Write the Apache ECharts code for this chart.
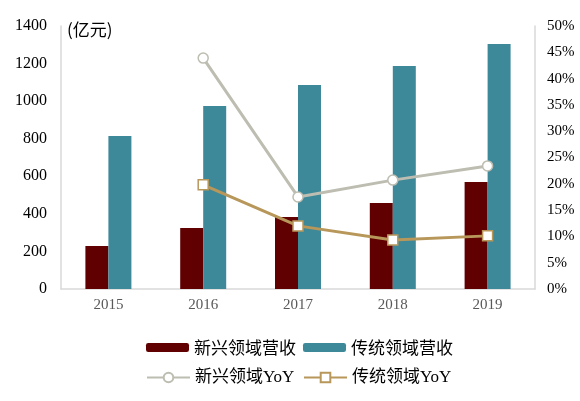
<!DOCTYPE html>
<html>
<head>
<meta charset="utf-8">
<script src="https://cdn.jsdelivr.net/npm/echarts@6/dist/echarts.min.js"></script>
<style>
html, body { margin: 0; padding: 0; background: #fff; }
#chart { width: 580px; height: 401px; }
</style>
</head>
<body>
<div id="chart"></div>
<script>
// 数据
var years = ['2015', '2016', '2017', '2018', '2019'];
var newRevenue = [229, 325, 383, 458, 570];
var oldRevenue = [814, 974, 1086, 1187, 1304];
var newYoY = [null, 43.9, 17.5, 20.7, 23.4];
var oldYoY = [null, 19.8, 12.0, 9.3, 10.1];

var serif = '"Liberation Serif", "Noto Sans CJK SC", serif';
var cjk = '"Noto Sans CJK SC", "Liberation Serif", sans-serif';

var chart = echarts.init(document.getElementById('chart'));

// 图例：两行两列，逐个定位以便对齐
function legendItem(name, left, top, h, font) {
    return {
        data: [name],
        left: left,
        top: top,
        itemWidth: 43,
        itemHeight: h,
        textStyle: {fontFamily: font, fontSize: 17, color: '#000'}
    };
}

option = {
    animation: false,
    grid: {left: 61, right: 45, top: 26, bottom: 112},
    graphic: [{
        type: 'text',
        left: 67,
        top: 21,
        style: {text: '(亿元)', font: '17px ' + cjk, fill: '#000'}
    }],
    legend: [
        legendItem('新兴领域营收', 141, 334, 9, cjk),
        legendItem('传统领域营收', 298, 334, 9, cjk),
        legendItem('新兴领域YoY', 141, 364, 12, serif),
        legendItem('传统领域YoY', 298, 364, 12, serif)
    ],
    xAxis: {
        type: 'category',
        data: years,
        axisLine: {lineStyle: {color: '#d9d9d9', width: 1.5}},
        axisTick: {show: false},
        axisLabel: {fontFamily: serif, fontSize: 15, color: '#595959', margin: 9}
    },
    yAxis: [{
        type: 'value',
        min: 0,
        max: 1400,
        interval: 200,
        axisLine: {show: true, lineStyle: {color: '#d9d9d9', width: 1.5}},
        axisTick: {show: false},
        splitLine: {show: false},
        axisLabel: {fontFamily: serif, fontSize: 16, color: '#000', margin: 14,
            formatter: function (v) { return String(v); }}
    }, {
        type: 'value',
        min: 0,
        max: 50,
        interval: 5,
        axisLine: {show: true, lineStyle: {color: '#d9d9d9', width: 1.5}},
        axisTick: {show: false},
        splitLine: {show: false},
        axisLabel: {fontFamily: serif, fontSize: 15, color: '#000', margin: 12, formatter: '{value}%'}
    }],
    series: [{
        name: '新兴领域营收',
        type: 'bar',
        data: newRevenue,
        barWidth: 23,
        barGap: '0%',
        itemStyle: {color: '#600000'}
    }, {
        name: '传统领域营收',
        type: 'bar',
        data: oldRevenue,
        barWidth: 23,
        itemStyle: {color: '#3d8899'}
    }, {
        name: '新兴领域YoY',
        type: 'line',
        yAxisIndex: 1,
        data: newYoY,
        symbol: 'circle',
        symbolSize: 10,
        lineStyle: {color: '#bdbdb1', width: 3},
        itemStyle: {color: '#fff', borderColor: '#bdbdb1', borderWidth: 1.5}
    }, {
        name: '传统领域YoY',
        type: 'line',
        yAxisIndex: 1,
        data: oldYoY,
        symbol: 'rect',
        symbolSize: 10,
        lineStyle: {color: '#b8975a', width: 3},
        itemStyle: {color: '#fff', borderColor: '#b8975a', borderWidth: 1.5}
    }]
};

chart.setOption(option);
</script>
</body>
</html>
